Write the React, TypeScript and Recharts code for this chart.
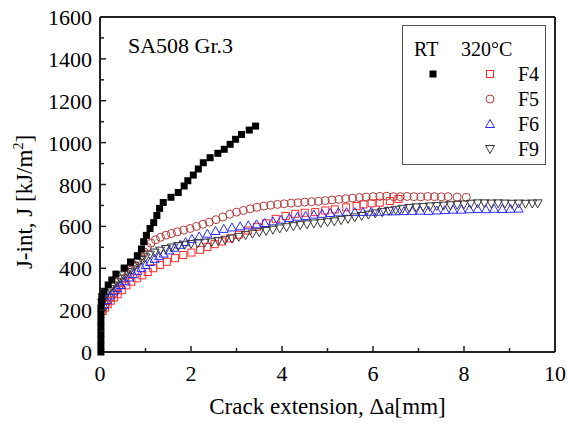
import React from 'react';
import { ScatterChart, Scatter, XAxis, YAxis, ReferenceLine } from 'recharts';

// ticks (minor ticks between majors, labels on majors only)
const xTicks = [0, 1, 2, 3, 4, 5, 6, 7, 8, 9, 10];
const yTicks = [0, 100, 200, 300, 400, 500, 600, 700, 800, 900, 1000, 1100, 1200, 1300, 1400, 1500, 1600];

// RT, filled squares: [crack extension mm, J kJ/m2]
const rtData = [
  [0.02, 0], [0.02, 30], [0.02, 60], [0.02, 90], [0.02, 120], [0.02, 150], [0.02, 180], [0.02, 210],
  [0.03, 240], [0.04, 265], [0.09, 290], [0.18, 320], [0.26, 344], [0.35, 372], [0.53, 401], [0.67, 430],
  [0.82, 460], [0.91, 492], [0.96, 527], [1.02, 557], [1.10, 590], [1.18, 618], [1.25, 652], [1.31, 686],
  [1.39, 714], [1.56, 739], [1.72, 762], [1.85, 793], [1.93, 818], [2.05, 845], [2.16, 874], [2.27, 904],
  [2.42, 928], [2.59, 949], [2.73, 968], [2.86, 992], [2.98, 1016], [3.11, 1039], [3.28, 1060], [3.42, 1079],
];

// 320C, F4 open squares
const f4Data = [
  [0.06, 195], [0.11, 212], [0.17, 228], [0.24, 245], [0.31, 260], [0.39, 276], [0.48, 295], [0.58, 318],
  [0.69, 336], [0.81, 352], [0.93, 366], [1.05, 382], [1.17, 400], [1.32, 416], [1.47, 431], [1.65, 448],
  [1.83, 463], [2.01, 475], [2.20, 488], [2.36, 502], [2.52, 515], [2.68, 528], [2.86, 543], [3.05, 560],
  [3.25, 580], [3.45, 598], [3.65, 615], [3.86, 636], [4.08, 650], [4.29, 660], [4.50, 665], [4.73, 668],
  [4.95, 676], [5.16, 681], [5.41, 691], [5.64, 697], [5.79, 705], [5.97, 710], [6.15, 713], [6.37, 721],
  [6.56, 731],
];

// 320C, F5 open circles
const f5Data = [
  [0.05, 200], [0.12, 225], [0.18, 245], [0.24, 262], [0.30, 280], [0.36, 298], [0.42, 316], [0.48, 334],
  [0.55, 352], [0.62, 372], [0.69, 392], [0.76, 414], [0.83, 436], [0.90, 458], [0.97, 478], [1.04, 500],
  [1.12, 520], [1.22, 536], [1.33, 548], [1.45, 558], [1.57, 566], [1.70, 574], [1.84, 582], [1.98, 590],
  [2.12, 600], [2.26, 610], [2.40, 620], [2.55, 632], [2.70, 645], [2.85, 658], [3.00, 668], [3.15, 676],
  [3.30, 684], [3.45, 691], [3.60, 697], [3.75, 701], [3.90, 705], [4.05, 708], [4.20, 711], [4.35, 713],
  [4.50, 716], [4.65, 718], [4.80, 720], [4.95, 723], [5.10, 726], [5.25, 729], [5.40, 732], [5.55, 735],
  [5.70, 738], [5.85, 740], [6.00, 742], [6.15, 743], [6.30, 744], [6.45, 742], [6.60, 742], [6.75, 743],
  [6.90, 742], [7.05, 741], [7.20, 743], [7.35, 742], [7.50, 741], [7.65, 742], [7.85, 740], [8.05, 739],
];

// 320C, F6 open up-triangles
const f6Data = [
  [0.08, 225], [0.14, 248], [0.22, 270], [0.30, 290], [0.38, 305], [0.46, 320], [0.55, 338], [0.64, 356],
  [0.73, 372], [0.82, 388], [0.91, 402], [1.00, 415], [1.10, 430], [1.20, 445], [1.30, 458], [1.40, 470],
  [1.52, 485], [1.64, 498], [1.76, 512], [1.88, 525], [2.02, 540], [2.18, 552], [2.36, 565], [2.54, 578],
  [2.72, 588], [2.90, 595], [3.08, 600], [3.26, 605], [3.44, 610], [3.62, 616], [3.80, 624], [3.98, 632],
  [4.16, 640], [4.34, 646], [4.52, 650], [4.70, 656], [4.88, 660], [5.06, 664], [5.24, 667], [5.42, 668],
  [5.60, 668], [5.78, 669], [5.96, 670], [6.14, 670], [6.32, 672], [6.50, 672], [6.68, 673], [6.86, 674],
  [7.04, 675], [7.22, 674], [7.40, 676], [7.58, 678], [7.76, 680], [7.94, 680], [8.12, 682], [8.30, 683],
  [8.48, 682], [8.66, 684], [8.84, 683], [9.02, 684], [9.20, 685],
];

// 320C, F9 open down-triangles
const f9Data = [
  [0.05, 235], [0.10, 258], [0.16, 280], [0.22, 300], [0.29, 318], [0.36, 333], [0.44, 350], [0.52, 366],
  [0.60, 382], [0.68, 396], [0.76, 412], [0.84, 426], [0.92, 440], [1.00, 452], [1.10, 465], [1.20, 475],
  [1.32, 484], [1.45, 492], [1.58, 499], [1.72, 506], [1.86, 512], [2.00, 516], [2.15, 520], [2.30, 522],
  [2.45, 524], [2.60, 530], [2.75, 536], [2.90, 542], [3.05, 550], [3.20, 558], [3.35, 565], [3.50, 572],
  [3.65, 578], [3.80, 584], [3.95, 590], [4.10, 596], [4.25, 601], [4.40, 606], [4.55, 610], [4.70, 614],
  [4.85, 617], [5.00, 620], [5.15, 624], [5.30, 630], [5.45, 636], [5.60, 643], [5.75, 650], [5.90, 656],
  [6.05, 662], [6.20, 668], [6.35, 674], [6.50, 679], [6.65, 684], [6.80, 688], [6.95, 691], [7.10, 693],
  [7.25, 695], [7.40, 697], [7.55, 699], [7.70, 701], [7.85, 703], [8.00, 705], [8.15, 708], [8.30, 710],
  [8.45, 710], [8.60, 709], [8.75, 710], [8.90, 709], [9.05, 708], [9.20, 709], [9.35, 708], [9.50, 709],
  [9.62, 710],
];

const toPts = (arr: number[][]) => arr.map(([x, y]) => ({ x, y }));

const FONT = '"Liberation Serif", "Times New Roman", serif';
const AXIS = '#222';
const txt = { fontFamily: FONT, fill: '#000' };

const RT_COLOR = '#000';
const F4_COLOR = '#ff2a2a';
const F5_COLOR = '#b23b3b';
const F6_COLOR = '#2b2bff';
const F9_COLOR = '#3a3a3a';

const filledSquare = (p: any) => <rect x={p.cx - 3.5} y={p.cy - 3.5} width={7} height={7} fill={RT_COLOR} />;
const openSquare = (p: any) => (
  <rect x={p.cx - 3.5} y={p.cy - 3.5} width={7} height={7} fill="none" stroke={F4_COLOR} strokeWidth={1} />
);
const openCircle = (p: any) => <circle cx={p.cx} cy={p.cy} r={4} fill="none" stroke={F5_COLOR} strokeWidth={1} />;
const upTri = (p: any) => (
  <polygon
    points={`${p.cx},${p.cy - 4.5} ${p.cx + 4.5},${p.cy + 3.5} ${p.cx - 4.5},${p.cy + 3.5}`}
    fill="none"
    stroke={F6_COLOR}
    strokeWidth={1}
  />
);
const downTri = (p: any) => (
  <polygon
    points={`${p.cx - 4.5},${p.cy - 3.5} ${p.cx + 4.5},${p.cy - 3.5} ${p.cx},${p.cy + 4.5}`}
    fill="none"
    stroke={F9_COLOR}
    strokeWidth={1}
  />
);

function XTick(props: any) {
  const { x, y, payload } = props;
  const major = payload.value % 2 === 0;
  return (
    <g>
      {payload.value !== 0 && payload.value !== 10 && (
        <line x1={x} y1={y} x2={x} y2={y - (major ? 6 : 4)} stroke={AXIS} strokeWidth={1.5} />
      )}
      {major && (
        <text x={x} y={y + 29} textAnchor="middle" fontSize={22} style={txt}>
          {payload.value}
        </text>
      )}
    </g>
  );
}

function YTick(props: any) {
  const { x, y, payload } = props;
  const major = payload.value % 200 === 0;
  return (
    <g>
      {payload.value !== 0 && payload.value !== 1600 && (
        <line x1={x} y1={y} x2={x + (major ? 6 : 4)} y2={y} stroke={AXIS} strokeWidth={1.5} />
      )}
      {major && (
        <text x={x - 8} y={y + 8} textAnchor="end" fontSize={22} style={txt}>
          {payload.value}
        </text>
      )}
    </g>
  );
}

function Legend() {
  const rows = [
    { label: 'F4', shape: openSquare },
    { label: 'F5', shape: openCircle },
    { label: 'F6', shape: upTri },
    { label: 'F9', shape: downTri },
  ];
  return (
    <svg
      width={144}
      height={140}
      style={{ position: 'absolute', left: 402, top: 25, background: '#fff', border: '1px solid #555', boxSizing: 'border-box' }}
    >
      <text x={11} y={30} fontSize={20} style={txt}>RT</text>
      <text x={58} y={30} fontSize={20} style={txt}>320°C</text>
      {filledSquare({ cx: 30, cy: 48 })}
      {rows.map((r, i) => (
        <g key={r.label}>
          {r.shape({ cx: 87, cy: 48 + i * 25 })}
          <text x={115} y={55 + i * 25} fontSize={20} style={txt}>{r.label}</text>
        </g>
      ))}
    </svg>
  );
}

export default function App() {
  return (
    <div style={{ position: 'relative', width: 567, height: 423, background: '#fff' }}>
      <style>{'body{margin:0}'}</style>
      <ScatterChart width={567} height={423} margin={{ top: 17, right: 12, bottom: 21, left: 0 }}>
        <XAxis
          type="number"
          dataKey="x"
          domain={[0, 10]}
          ticks={xTicks}
          interval={0}
          height={50}
          tickSize={0}
          tickMargin={0}
          tickLine={false}
          tick={(p: any) => <XTick {...p} />}
          axisLine={{ stroke: AXIS, strokeWidth: 2 }}
          label={{
            value: 'Crack extension, Δa[mm]',
            position: 'insideBottom',
            offset: -12,
            fontSize: 23,
            style: txt,
          }}
        />
        <YAxis
          type="number"
          dataKey="y"
          domain={[0, 1600]}
          ticks={yTicks}
          interval={0}
          width={100}
          tickSize={0}
          tickMargin={0}
          tickLine={false}
          tick={(p: any) => <YTick {...p} />}
          axisLine={{ stroke: AXIS, strokeWidth: 2 }}
          label={(p: any) => (
            <text transform="translate(32, 202) rotate(-90)" textAnchor="middle" fontSize={23} style={txt}>
              J-int, J [kJ/m<tspan dy={-9} fontSize={14}>2</tspan><tspan dy={9}>]</tspan>
            </text>
          )}
        />
        <ReferenceLine x={10} stroke={AXIS} strokeWidth={2} />
        <ReferenceLine y={1600} stroke={AXIS} strokeWidth={2} />
        <Scatter name="F4" data={toPts(f4Data)} shape={openSquare} isAnimationActive={false} />
        <Scatter name="F5" data={toPts(f5Data)} shape={openCircle} isAnimationActive={false} />
        <Scatter name="F6" data={toPts(f6Data)} shape={upTri} isAnimationActive={false} />
        <Scatter name="F9" data={toPts(f9Data)} shape={downTri} isAnimationActive={false} />
        <Scatter name="RT" data={toPts(rtData)} shape={filledSquare} isAnimationActive={false} />
      </ScatterChart>
      <div style={{ position: 'absolute', left: 128, top: 33, fontFamily: FONT, fontSize: 22, lineHeight: '26px' }}>
        SA508 Gr.3
      </div>
      <Legend />
    </div>
  );
}
